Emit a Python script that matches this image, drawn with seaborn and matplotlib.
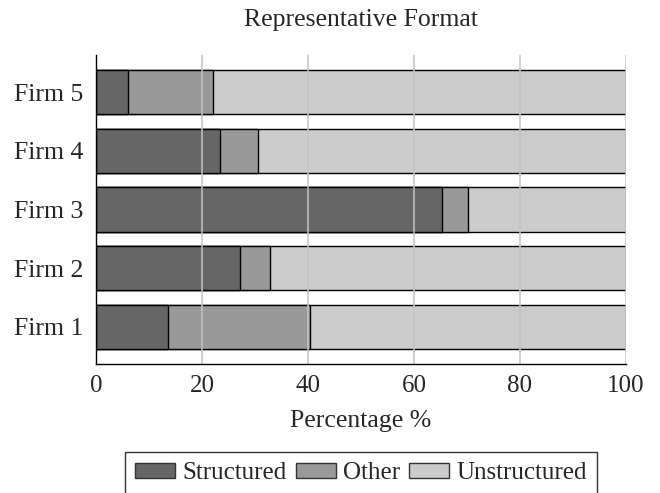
"""Stacked horizontal bar chart: representative format share per firm."""

import matplotlib

matplotlib.use("Agg")
import matplotlib.pyplot as plt
import pandas as pd
import seaborn as sns
from matplotlib.patches import Patch

firms = ["Firm 1", "Firm 2", "Firm 3", "Firm 4", "Firm 5"]
structured = [13.5, 27.1, 65.2, 23.4, 6.0]
other = [26.8, 5.7, 4.9, 7.2, 16.0]
unstructured = [59.7, 67.2, 29.9, 69.4, 78.0]
xticks = [0, 20, 40, 60, 80, 100]

colors = {"Structured": "#666666", "Other": "#999999", "Unstructured": "#cccccc"}

sns.set_theme(style="white")
plt.rcParams["font.family"] = ["Liberation Serif", "DejaVu Serif"]

df = pd.DataFrame(
    {"firm": firms, "Structured": structured, "Other": other, "Unstructured": unstructured}
)
# cumulative ends so the shorter segments can be drawn on top of the longer ones
df["cum_s"] = df["Structured"]
df["cum_o"] = df["cum_s"] + df["Other"]
df["cum_u"] = df["cum_o"] + df["Unstructured"]

order = firms[::-1]
fig = plt.figure(figsize=(6.6, 4.93), dpi=100)
ax = fig.add_axes([96 / 660, 1 - 364 / 493, 530 / 660, 309 / 493])

for col, name in [("cum_u", "Unstructured"), ("cum_o", "Other"), ("cum_s", "Structured")]:
    sns.barplot(
        data=df,
        x=col,
        y="firm",
        order=order,
        orient="h",
        color=colors[name],
        saturation=1,
        width=0.75,
        edgecolor="black",
        linewidth=1.0,
        ax=ax,
    )

ax.set_xlim(0, 100)
ax.set_ylim(4.63, -0.63)
ax.set_xticks(xticks)
ax.set_axisbelow(False)
ax.grid(axis="x", color="#c4c4c4", linewidth=1.1)
ax.grid(axis="y", visible=False)

for side in ["top", "right"]:
    ax.spines[side].set_visible(False)
for side in ["left", "bottom"]:
    ax.spines[side].set_color("black")
    ax.spines[side].set_linewidth(1.0)
    ax.spines[side].set_zorder(5)

ax.tick_params(axis="y", direction="in", length=7, color="#aaaaaa", labelsize=18.5, pad=9)
ax.tick_params(axis="x", length=0, labelsize=18, pad=8)
ax.set_ylabel("")
ax.set_xlabel("Percentage %", fontsize=18.5, labelpad=9)
ax.set_title("Representative Format", fontsize=18.5, pad=21)

handles = [Patch(facecolor=colors[n], edgecolor="#333333", linewidth=1.0, label=n) for n in colors]
leg = fig.legend(
    handles=handles,
    loc="upper center",
    bbox_to_anchor=(361 / 660, 1 - 452 / 493),
    ncol=3,
    fontsize=18,
    frameon=True,
    fancybox=False,
    edgecolor="black",
    handlelength=1.6,
    handleheight=0.55,
    handletextpad=0.3,
    columnspacing=0.35,
    borderpad=0.4,
    borderaxespad=0,
)
leg.get_frame().set_linewidth(1.0)

fig.savefig("out.png", dpi=100)
plt.close(fig)
